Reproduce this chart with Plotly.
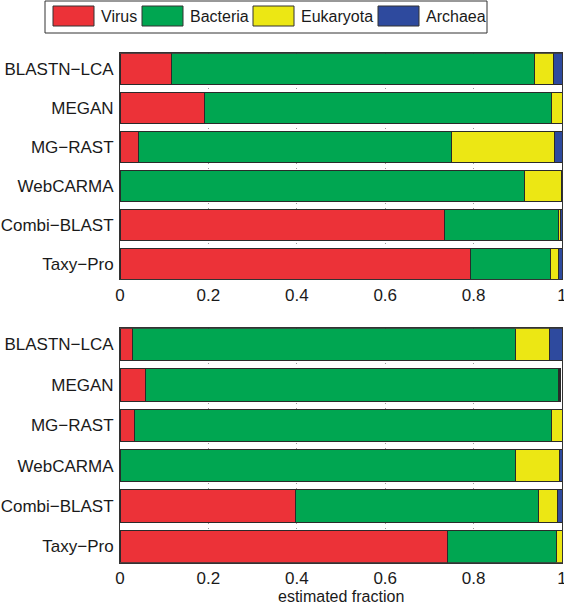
import plotly.graph_objects as go

methods = ["BLASTN−LCA", "MEGAN", "MG−RAST", "WebCARMA", "Combi−BLAST", "Taxy−Pro"]
series = ["Virus", "Bacteria", "Eukaryota", "Archaea"]
colors = ["#EC3238", "#00A651", "#ECE714", "#2E4A9E"]

# top panel
virus_top = [0.117, 0.192, 0.042, 0.0, 0.735, 0.792]
bacteria_top = [0.821, 0.785, 0.708, 0.915, 0.257, 0.183]
eukaryota_top = [0.043, 0.023, 0.233, 0.083, 0.004, 0.016]
archaea_top = [0.019, 0.0, 0.017, 0.002, 0.004, 0.009]

# bottom panel
virus_bot = [0.028, 0.058, 0.033, 0.0, 0.397, 0.742]
bacteria_bot = [0.866, 0.933, 0.943, 0.894, 0.550, 0.245]
eukaryota_bot = [0.078, 0.003, 0.024, 0.101, 0.042, 0.013]
archaea_bot = [0.028, 0.003, 0.0, 0.005, 0.011, 0.0]

xtick_vals = [0, 0.2, 0.4, 0.6, 0.8, 1]
xtick_text = ["0", "0.2", "0.4", "0.6", "0.8", "1"]
x_title = "estimated fraction"

W, H = 564, 603
FONT = "Liberation Sans, Arial, Helvetica, sans-serif"
TXT = "#1a1a1a"

fig = go.Figure()
panels = [
    ("x", "y", [virus_top, bacteria_top, eukaryota_top, archaea_top]),
    ("x2", "y2", [virus_bot, bacteria_bot, eukaryota_bot, archaea_bot]),
]
for xa, ya, vals in panels:
    for name, col, v in zip(series, colors, vals):
        fig.add_trace(go.Bar(
            x=v, y=methods, orientation="h", name=name,
            marker=dict(color=col, line=dict(color="#2a2a2a", width=1)),
            width=0.8, xaxis=xa, yaxis=ya, showlegend=False,
        ))

xcommon = dict(
    range=[0, 1], tickvals=xtick_vals, ticktext=xtick_text,
    showline=True, mirror=True, linecolor="#333", linewidth=1,
    showgrid=True, gridcolor="#999", gridwidth=1, griddash="1px,4px",
    zeroline=False, ticks="", tickfont=dict(size=17, color=TXT, family=FONT),
    ticklabeloverflow="allow",
    domain=[120 / W, 562 / W], automargin=False,
)
ycommon = dict(
    type="category", categoryorder="array", categoryarray=methods,
    range=[5.4, -0.4], showline=True, mirror=True, linecolor="#333", linewidth=1,
    showgrid=False, ticks="", ticklabelstandoff=2,
    tickfont=dict(size=17, color=TXT, family=FONT), automargin=False,
)

fig.update_layout(
    width=W, height=H, margin=dict(l=0, r=0, t=0, b=0),
    paper_bgcolor="white", plot_bgcolor="white", barmode="stack",
    bargap=0.2, showlegend=False,
    font=dict(family=FONT, color=TXT, size=16),
    xaxis=dict(anchor="y", **xcommon),
    xaxis2=dict(anchor="y2", **xcommon),
    yaxis=dict(anchor="x", domain=[1 - 279.3 / H, 1 - 53.3 / H], **ycommon),
    yaxis2=dict(anchor="x2", domain=[1 - 562.7 / H, 1 - 328.3 / H], **ycommon),
)

# legend box drawn in pixel-based paper coordinates
shapes = [dict(type="rect", xref="paper", yref="paper",
               x0=45 / W, x1=487 / W, y0=1 - 33 / H, y1=1 - 1 / H,
               line=dict(color="#333", width=1), fillcolor="white")]
annotations = []
patch_x = [53, 142, 253, 378]
for px, name, col in zip(patch_x, series, colors):
    shapes.append(dict(type="rect", xref="paper", yref="paper",
                       x0=px / W, x1=(px + 41) / W, y0=1 - 26 / H, y1=1 - 6 / H,
                       line=dict(color="#333", width=1), fillcolor=col))
    annotations.append(dict(xref="paper", yref="paper", x=(px + 46) / W, y=1 - 16.5 / H,
                            text=name, showarrow=False, xanchor="left", yanchor="middle",
                            font=dict(size=16, color=TXT, family=FONT)))
annotations.append(dict(xref="paper", yref="paper", x=(120 + 562) / 2 / W, y=1 - 596 / H,
                        text=x_title, showarrow=False, xanchor="center", yanchor="middle",
                        font=dict(size=16, color=TXT, family=FONT)))
fig.update_layout(shapes=shapes, annotations=annotations)

fig.write_html(
    "out.html",
    config={"displayModeBar": False},
    post_script="document.body.style.margin='0';document.body.style.overflow='hidden';",
)
